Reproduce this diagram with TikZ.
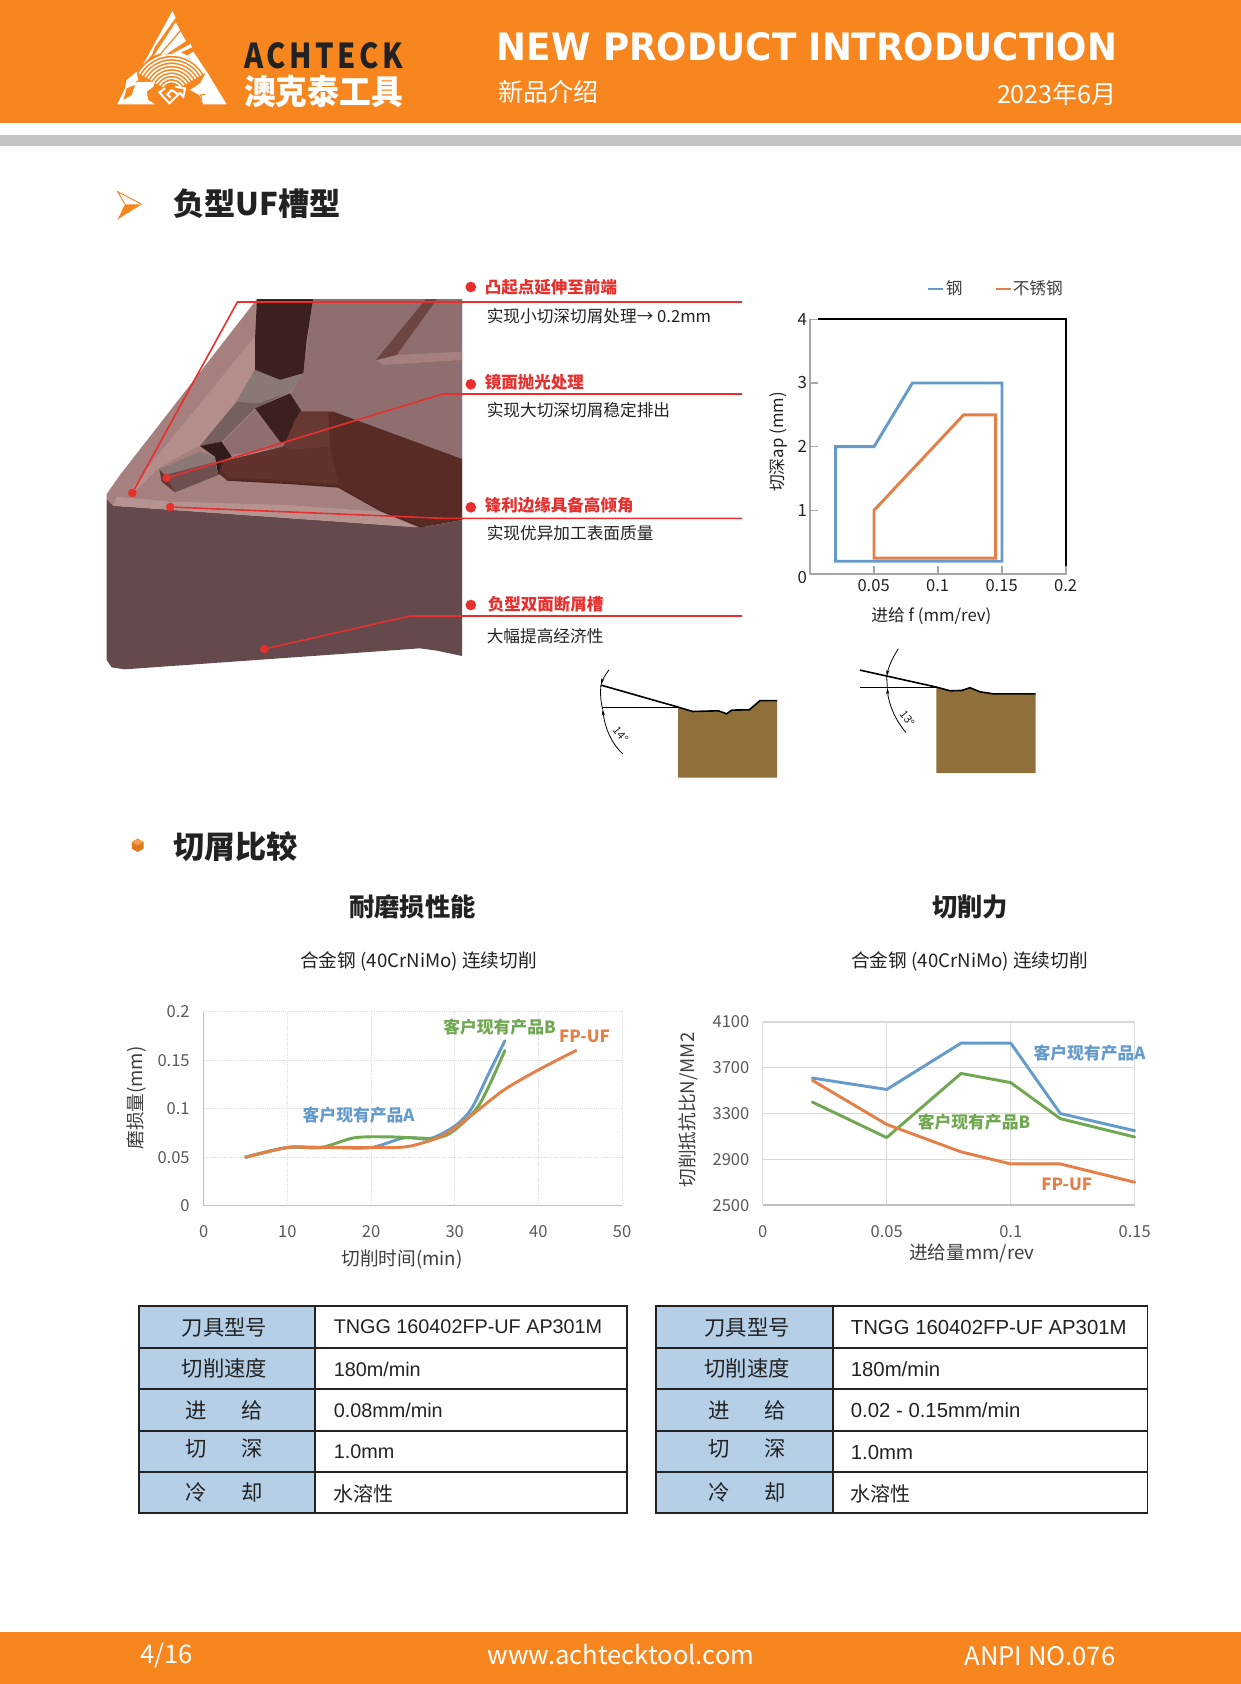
\documentclass[tikz,border=0pt]{standalone}
\usepackage{fontspec}
\usepackage{graphicx}
\setmainfont{Noto Sans CJK SC}
\newfontfamily\latinfont{Liberation Sans}
\newfontfamily\headfont{DejaVu Sans}
\usetikzlibrary{arrows.meta}
\definecolor{brandorange}{HTML}{F8861F}
\definecolor{bandgrey}{HTML}{C4C4C4}
\definecolor{inkdark}{HTML}{222222}
\definecolor{ticktext}{HTML}{595959}
\definecolor{gridgrey}{HTML}{D9D9D9}
\definecolor{axisgrey}{HTML}{A6A6A6}
\definecolor{markred}{HTML}{E7302E}
\definecolor{seriesblue}{HTML}{659BCB}
\definecolor{seriesgreen}{HTML}{70A851}
\definecolor{seriesorange}{HTML}{E57F48}
\definecolor{tablehead}{HTML}{B5CFE7}
\definecolor{steelbrown}{HTML}{8F6F3A}
\definecolor{toolbody}{HTML}{644A4C}
\definecolor{toolface}{HTML}{8F6E6F}
\definecolor{toolband}{HTML}{A5807F}
\definecolor{toollight}{HTML}{B38E8B}
\definecolor{toolrim}{HTML}{B59390}
\definecolor{tooldark}{HTML}{3C2020}
\definecolor{toolbrown}{HTML}{592B26}
\definecolor{toolbrownl}{HTML}{683833}
\definecolor{toolgrey}{HTML}{76605F}
\tikzset{
  every node/.style={inner sep=0pt,text=inkdark},
  sectionhead/.style={font=\fontsize{23.4pt}{26pt}\selectfont\bfseries,anchor=west},
  charthead/.style={font=\fontsize{19pt}{22pt}\selectfont\bfseries},
  chartnote/.style={font=\fontsize{14pt}{16pt}\selectfont},
  redlabel/.style={font=\fontsize{12.4pt}{15pt}\selectfont\bfseries,text=markred,anchor=west},
  blacknote/.style={font=\fontsize{12.5pt}{15pt}\selectfont,anchor=west},
  reddot/.style={circle,fill=markred,minimum size=8pt},
  tipdot/.style={circle,fill=markred,minimum size=6.5pt},
  redline/.style={markred,line width=1.2pt},
  ticklabel/.style={font=\fontsize{12.4pt}{15pt}\selectfont,text=ticktext},
  axistitle/.style={font=\fontsize{14pt}{17pt}\selectfont,text=ticktext!70!black},
  serieslabel/.style={font=\fontsize{12.6pt}{15pt}\selectfont\bfseries},
  seriesline/.style={line width=2.2pt,line join=round,line cap=round},
  griddot/.style={gridgrey,densely dotted,line width=.7pt},
  gridline/.style={gridgrey,line width=1pt},
  tablerule/.style={inkdark,line width=1.3pt},
  tablelabel/.style={font=\fontsize{16pt}{18pt}\selectfont},
  tablevalue/.style={font=\latinfont\fontsize{#1pt}{18pt}\selectfont,anchor=west},
  tablecjk/.style={font=\fontsize{15pt}{18pt}\selectfont,anchor=west},
  footertext/.style={font=\fontsize{19.2pt}{22pt}\selectfont,text=white},
  anglearrow/.style={black,line width=.6pt,-{Stealth[length=5pt,width=2.4pt]}},
}
\begin{document}
\begin{tikzpicture}[x=.75pt,y=-.75pt]
\useasboundingbox (0,0) rectangle (1241,1684);
%header
\fill[brandorange] (0,0) rectangle (1241,122.5);
\fill[bandgrey] (0,135) rectangle (1241,146);
\begin{scope}[shift={(110,5)},x=.25pt,y=-.25pt]
\fill[white] (187,18) -- (197,38) -- (135,125) -- (125,150) -- (100,178) -- cycle;
\fill[white] (197,52) -- (210,75) -- (150,145) -- (132,152) -- cycle;
\fill[white] (212,80) -- (228,108) -- (168,148) -- (150,152) -- cycle;
\fill[white] (185,147) -- (242,117) -- (246,127) -- (212,142) -- (232,152) -- (250,140) -- (300,215) -- (285,205) -- (240,160) -- cycle;
\foreach \r in {32,42,...,112}
  \draw[white,line width=1.2pt] plot[domain=30:150,samples=24] ({185+\r*cos(\x)},{262-\r*sin(\x)});
\fill[white] (22,298) -- (45,250) -- (50,225) -- (80,200) -- (85,225) -- (75,232) -- (135,230) -- (130,245) -- (110,260) -- (115,285) -- (135,298) -- cycle;
\fill[brandorange] (50,250) -- (75,240) -- (65,270) -- (40,285) -- cycle;
\fill[white] (290,200) -- (350,298) -- (280,298) -- (268,270) -- (240,255) -- (270,235) -- cycle;
\draw[brandorange,line width=.8pt] (275,285) -- (272,270) -- (285,268);
\draw[white,line width=1.5pt] (165,250) -- (148,262) -- (178,295) -- (205,268) -- (185,255) -- (172,268) -- (182,278);
\draw[white,line width=1.5pt] (195,245) -- (225,250) -- (220,275) -- (208,262);
\end{scope}
\node (brandname) at (323.5,56) {\resizebox{119pt}{19.5pt}{\addfontfeatures{LetterSpace=12}\bfseries ACHTECK}};
\node (brandcn) at (323.5,91.5) {\resizebox{119pt}{22pt}{\color{white}\bfseries 澳克泰工具}};
\node (pagetitle) at (807,47) {\resizebox{465pt}{21pt}{\color{white}\headfont\bfseries NEW PRODUCT INTRODUCTION}};
\node[font=\fontsize{18.8pt}{22pt}\selectfont,text=white,anchor=west] (pagesub) at (498,92) {新品介绍};
\node[font=\fontsize{18.8pt}{22pt}\selectfont,text=white,anchor=east] (pagedate) at (1117,94) {2023年6月};
%first section
\fill[brandorange] (125,204.3) -- (141.7,204.3) -- (117.7,219.3) -- cycle;
\draw[brandorange,line width=.7pt] (125,204.3) -- (117.7,191.7) -- (141.7,204.3);
\node[sectionhead] (sectionone) at (173,204) {负型UF槽型};
%tool picture
\begin{scope}[shift={(120,340)},x=.25pt,y=-.25pt]
\fill[toolbody] (-40,477) -- (-20,497) -- (905,562) -- (1026,540) -- (1026,948) -- (951,932) -- (899,925) -- (690,940) -- (14,988) -- (-25,982) -- (-40,960) -- cycle;
\fill[toolband] (411,-123) -- (1026,-123) -- (1026,540) -- (905,562) -- (-20,497) -- (-40,477) -- (-40,462) -- (0,405) -- cycle;
\fill[toollight] (404,-10) -- (405,90) -- (350,185) -- (240,315) -- (115,385) -- (45,455) -- (25,455) -- cycle;
\fill[toolrim] (-20,497) -- (-10,470) -- (150,485) -- (500,495) -- (780,515) -- (890,562) -- cycle;
\fill[toolface] (579,-123) -- (1026,-123) -- (1026,357) -- (640,215) -- (545,215) -- (510,165) -- (550,100) -- cycle;
\fill[tooldark] (411,-123) -- (579,-123) -- (560,0) -- (550,100) -- (480,120) -- (405,90) -- (405,0) -- cycle;
\fill[toolgrey] (405,90) -- (480,120) -- (550,100) -- (510,155) -- (405,205) -- (305,305) -- (240,318) -- (350,185) -- cycle;
\fill[toolgrey!85!white] (405,90) -- (480,120) -- (550,100) -- (510,155) -- (415,190) -- (350,185) -- cycle;
\fill[toolface] (310,305) -- (405,210) -- (480,305) -- (495,320) -- (330,345) -- cycle;
\fill[tooldark] (405,205) -- (510,160) -- (545,215) -- (530,240) -- (500,310) -- (480,305) -- cycle;
\fill[toolbrown] (640,215) -- (1026,357) -- (1026,540) -- (905,562) -- (780,510) -- (655,440) -- (520,430) -- (320,420) -- (295,400) -- (305,365) -- (490,320) -- (530,240) -- (545,215) -- cycle;
\fill[toolbrownl!60!toolbrown] (510,330) -- (630,320) -- (655,432) -- (520,422) -- cycle;
\fill[toolbrownl] (540,215) -- (625,215) -- (630,320) -- (510,330) -- (490,320) -- (525,240) -- cycle;
\fill[toolbrownl!60!toolbrown] (310,365) -- (490,320) -- (510,330) -- (520,422) -- (325,412) -- (305,390) -- cycle;
\draw[toolbrown!85!black,line width=1pt] (320,420) -- (520,431) -- (655,441) -- (780,511) -- (905,562);
\fill[tooldark!85!black] (240,318) -- (305,305) -- (335,350) -- (305,365) -- (295,405) -- (285,350) -- cycle;
\fill[toolgrey!85!white] (118,388) -- (240,335) -- (285,350) -- (285,368) -- (135,405) -- cycle;
\fill[toolgrey!70!toolbrown] (135,405) -- (285,366) -- (295,405) -- (165,457) -- cycle;
\fill[toolbrown!75!toolgrey] (118,388) -- (135,405) -- (165,457) -- (125,425) -- cycle;
\fill[toolbrownl!70!toolgrey] (951,-123) -- (918,-123) -- (768,60) -- (830,45) -- cycle;
\fill[toolband] (768,62) -- (830,45) -- (1026,35) -- (1026,60) -- (790,75) -- cycle;
\node[tipdot] (tipone) at (37,459) {};
\node[tipdot] (tiptwo) at (140,414) {};
\node[tipdot] (tipthree) at (151,501) {};
\node[tipdot] (tipfour) at (433,927) {};
\end{scope}
\coordinate (elbowone) at (237.4,302);
\coordinate (elbowtwo) at (442.7,394);
\coordinate (elbowthree) at (442.7,518.3);
\coordinate (elbowfour) at (410,616);
\coordinate (endone) at (742,302);
\coordinate (endtwo) at (742,394);
\coordinate (endthree) at (742,518.3);
\coordinate (endfour) at (742,616);
\draw[redline] (tipone) -- (elbowone) -- (endone);
\draw[redline] (tiptwo) -- (elbowtwo) -- (endtwo);
\draw[redline] (tipthree) -- (elbowthree) -- (endthree);
\draw[redline] (tipfour) -- (elbowfour) -- (endfour);
\node[reddot] (markone) at (470.8,287) {};
\node[reddot] (marktwo) at (470.8,384.3) {};
\node[reddot] (markthree) at (470.8,507.3) {};
\node[reddot] (markfour) at (470.8,605) {};
\node[redlabel] (headone) at (484.5,287) {凸起点延伸至前端};
\node[redlabel] (headtwo) at (484.5,382) {镜面抛光处理};
\node[redlabel] (headthree) at (484.5,505) {锋利边缘具备高倾角};
\node[redlabel] (headfour) at (487.5,604) {负型双面断屑槽};
\node[blacknote] (noteone) at (486.5,316) {实现小切深切屑处理→ 0.2mm};
\node[blacknote] (notetwo) at (486.5,410) {实现大切深切屑稳定排出};
\node[blacknote] (notethree) at (486.5,533) {实现优异加工表面质量};
\node[blacknote] (notefour) at (486.5,636) {大幅提高经济性};
%application range
\draw[seriesblue,line width=1.8pt] (928.3,289) -- (942.7,289);
\node[font=\fontsize{12.5pt}{14pt}\selectfont,text=ticktext!70!black] (legendsteel) at (954.3,288) {钢};
\draw[seriesorange,line width=1.8pt] (996,289) -- (1010.7,289);
\node[font=\fontsize{12.5pt}{14pt}\selectfont,text=ticktext!70!black,anchor=west] (legendstainless) at (1012.5,288) {不锈钢};
\begin{scope}[shift={(810,574)},x=960pt,y=47.75pt]
\draw[axisgrey,line width=1.1pt] (.2,.12) -- (.2,0) -- (0,0) -- (0,4) -- (.0065,4);
\foreach \x in {.05,.1,.15} \draw[axisgrey,line width=.9pt] (\x,0) -- (\x,.12);
\foreach \y in {1,2,3} \draw[axisgrey,line width=.9pt] (0,\y) -- (.0065,\y);
\draw[black,line width=1.3pt] (.0065,4) -- (.2,4) -- (.2,.12);
\draw[seriesblue,seriesline,line cap=butt,line join=miter] (.02,.2) -- (.02,2) -- (.05,2) -- (.08,3) -- (.15,3) -- (.15,.2) -- cycle;
\draw[seriesorange,seriesline,line cap=butt,line join=miter] (.05,.25) -- (.05,1) -- (.12,2.5) -- (.145,2.5) -- (.145,.25) -- cycle;
\foreach \y/\o in {0/-.05,1/0,2/0,3/0,4/0} \node[font=\fontsize{12.6pt}{15pt}\selectfont] (rangey\y) at (-.006,\y+\o) {\y};
\foreach \x/\n in {0.05/a,0.1/b,0.15/c,0.2/d} \node[font=\fontsize{12.4pt}{15pt}\selectfont] (rangex\n) at ({\x-.0003},-.18) {\x};
\end{scope}
\node[font=\fontsize{12.6pt}{15pt}\selectfont] (rangextitle) at (931.3,616) {进给 f (mm/rev)};
\node[font=\fontsize{12.6pt}{15pt}\selectfont,rotate=90] (rangeytitle) at (778,442) {切深ap (mm)};
%cross sections
\begin{scope}[shift={(570,259)},x=.25pt,y=-.2542pt]
\fill[steelbrown] (324,1322) -- (368,1335) -- (445,1333) -- (470,1342) -- (485,1331) -- (538,1330) -- (570,1303) -- (621,1303) -- (621,1530) -- (324,1530) -- cycle;
\draw[black,line width=1.2pt] (92,1257) -- (324,1322) -- (368,1335) -- (445,1333) -- (470,1342) -- (485,1331) -- (538,1330) -- (570,1303) -- (621,1303);
\draw[black,line width=.5pt] (95,1324) -- (324,1324);
\coordinate (rakeatop) at (117,1212);
\coordinate (rakeatip) at (93,1257);
\coordinate (rakeabase) at (158,1460);
\coordinate (rakeaflat) at (98,1328);
\draw[anglearrow] (rakeatop) .. controls (105,1228) and (97,1242) .. (rakeatip);
\draw[black,line width=.6pt] (rakeatip) .. controls (90,1280) and (92,1305) .. (rakeaflat);
\draw[anglearrow] (rakeabase) .. controls (125,1430) and (105,1385) .. (rakeaflat);
\node[font=\fontsize{8.4pt}{9pt}\selectfont,rotate=-52,text=inkdark] (rakealabel) at (154,1402) {14°};
\fill[steelbrown] (1099,1263) -- (1140,1274) -- (1175,1273) -- (1200,1265) -- (1230,1277) -- (1270,1283) -- (1397,1283) -- (1397,1517) -- (1099,1517) -- cycle;
\draw[black,line width=1.2pt] (870,1213) -- (1099,1263) -- (1140,1274) -- (1175,1273) -- (1200,1265) -- (1230,1277) -- (1270,1283) -- (1397,1283);
\draw[black,line width=.5pt] (870,1264) -- (1099,1264);
\coordinate (rakebtop) at (985,1150);
\coordinate (rakebtip) at (950,1232);
\coordinate (rakebbase) at (1008,1397);
\coordinate (rakebflat) at (952,1265);
\draw[anglearrow] (rakebtop) .. controls (968,1175) and (955,1205) .. (rakebtip);
\draw[black,line width=.6pt] (rakebtip) -- (rakebflat);
\draw[anglearrow] (rakebbase) .. controls (975,1360) and (955,1310) .. (rakebflat);
\node[font=\fontsize{8.4pt}{9pt}\selectfont,rotate=-52,text=inkdark] (rakeblabel) at (1013,1355) {13°};
\end{scope}
%second section
\fill[brandorange!90!black] (137.7,838.6) -- (143.5,842) -- (143.5,848.7) -- (137.7,852) -- (131.9,848.7) -- (131.9,842) -- cycle;
\fill[brandorange!80!white] (137.7,838.6) -- (143.5,842) -- (137.7,845.3) -- (131.9,842) -- cycle;
\node[sectionhead] (sectiontwo) at (173,847) {切屑比较};
\node[charthead] (wearhead) at (412.5,907) {耐磨损性能};
\node[charthead] (forcehead) at (970,907) {切削力};
\node[chartnote] (wearnote) at (418.5,961) {合金钢 (40CrNiMo) 连续切削};
\node[chartnote] (forcenote) at (969.5,961) {合金钢 (40CrNiMo) 连续切削};
%wear chart
\begin{scope}[shift={(203.7,1205.7)},x=6.2745pt,y=727.5pt]
\foreach \x in {10,20,...,50} \draw[griddot] (\x,0) -- (\x,.2);
\foreach \y in {.05,.1,.15,.2} \draw[griddot] (0,\y) -- (50,\y);
\draw[axisgrey!70!white,line width=1pt] (0,.2) -- (0,0) -- (50,0);
\draw[seriesblue,seriesline] plot[smooth,tension=.5] coordinates {(5,.05) (10,.06) (15,.06) (20,.06) (24,.07) (27,.069) (30,.082) (32,.1) (34,.135) (36,.17)};
\draw[seriesgreen,seriesline] plot[smooth,tension=.5] coordinates {(5,.05) (10,.06) (14,.06) (18,.07) (22,.071) (25,.07) (28,.07) (30,.078) (33,.105) (36,.16)};
\draw[seriesorange,seriesline] plot[smooth,tension=.5] coordinates {(5,.05) (10,.06) (13,.06) (20,.06) (23,.06) (25,.062) (28,.07) (30,.08) (33,.1) (36,.12) (40,.14) (44.5,.16)};
\foreach \x in {0,10,...,50} \node[ticklabel] (wearx\x) at (\x,-.0265) {\x};
\foreach \y/\n in {0/a,0.05/b,0.1/c,0.15/d,0.2/e} \node[ticklabel,anchor=east] (weary\n) at (-1.65,\y) {\y};
\end{scope}
\node[axistitle] (wearxtitle) at (402,1259.5) {切削时间(min)};
\node[axistitle,rotate=90] (wearytitle) at (136,1098) {磨损量(mm)};
\node[serieslabel,text=seriesgreen] (wearb) at (499.5,1026.7) {客户现有产品B};
\node[serieslabel,text=seriesorange] (wearfp) at (584.5,1036.7) {FP-UF};
\node[serieslabel,text=seriesblue] (weara) at (358.6,1115) {客户现有产品A};
%force chart
\begin{scope}[shift={(762.7,1491.5)},x=1860pt,y=.0859pt]
\foreach \x in {.05,.1,.15} \draw[gridline] (\x,2500) -- (\x,4100);
\foreach \y in {2900,3300,3700,4100} \draw[gridline] (0,\y) -- (.15,\y);
\draw[gridline] (0,2500) -- (0,4100);
\draw[axisgrey!70!white,line width=1.2pt] (0,2500) -- (.15,2500);
\draw[seriesblue,seriesline] (.02,3610) -- (.05,3510) -- (.08,3915) -- (.1,3915) -- (.12,3300) -- (.15,3150);
\draw[seriesgreen,seriesline] (.02,3400) -- (.05,3090) -- (.08,3650) -- (.1,3570) -- (.12,3255) -- (.15,3095);
\draw[seriesorange,seriesline] (.02,3590) -- (.05,3205) -- (.08,2965) -- (.1,2860) -- (.12,2860) -- (.15,2700);
\foreach \y in {2500,2900,3300,3700,4100} \node[ticklabel,anchor=east] (forcey\y) at (-.0053,\y) {\y};
\foreach \x/\n in {0/a,0.05/b,0.1/c,0.15/d} \node[ticklabel] (forcex\n) at (\x,2272) {\x};
\end{scope}
\node[axistitle] (forcextitle) at (971.7,1253) {进给量mm/rev};
\node[axistitle,rotate=90] (forceytitle) at (688,1110) {切削抵抗比N/MM2};
\node[serieslabel,text=seriesblue] (forcea) at (1089.5,1053) {客户现有产品A};
\node[serieslabel,text=seriesgreen] (forceb) at (974,1122) {客户现有产品B};
\node[serieslabel,text=seriesorange] (forcefp) at (1066.7,1184) {FP-UF};
%tables
\foreach \l/\d/\r/\c/\v/\s/\t [count=\k] in {139/315/627/224.5/333.5/14.85/0.08mm\slash min,656.2/832.7/1147.5/747/850.6/15.25/0.02 - 0.15mm\slash min}{
  \fill[tablehead] (\l,1306) rectangle (\d,1513.3);
  \foreach \y in {1348.3,1389.3,1430.7,1472} \draw[tablerule] (\l,\y) -- (\r,\y);
  \draw[tablerule] (\d,1306) -- (\d,1513.3);
  \draw[tablerule] (\l,1306) rectangle (\r,1513.3);
  \node[tablelabel] (toolkey\k) at (\c,1327) {刀具型号};
  \node[tablelabel] (speedkey\k) at (\c,1368.5) {切削速度};
  \node[tablelabel] (feedkey\k) at (\c,1410) {进\hspace{26pt}给};
  \node[tablelabel] (depthkey\k) at (\c,1448.5) {切\hspace{26pt}深};
  \node[tablelabel] (coolkey\k) at (\c,1492.5) {冷\hspace{26pt}却};
  \node[tablevalue=\s] (toolval\k) at (\v,1327) {TNGG 160402FP-UF AP301M};
  \node[tablevalue=\s] (speedval\k) at (\v,1369) {180m\slash min};
  \node[tablevalue=\s] (feedval\k) at (\v,1410) {\t};
  \node[tablevalue=\s] (depthval\k) at (\v,1452) {1.0mm};
  \node[tablecjk] (coolval\k) at (\v,1493.5) {水溶性};
}
%footer
\fill[brandorange] (0,1632) rectangle (1241,1684);
\node[footertext] (pagenumber) at (166.5,1655.5) {4/16};
\node[footertext] (website) at (621,1654) {www.achtecktool.com};
\node[footertext] (issueno) at (1040,1656) {ANPI NO.076};
\end{tikzpicture}
\end{document}
